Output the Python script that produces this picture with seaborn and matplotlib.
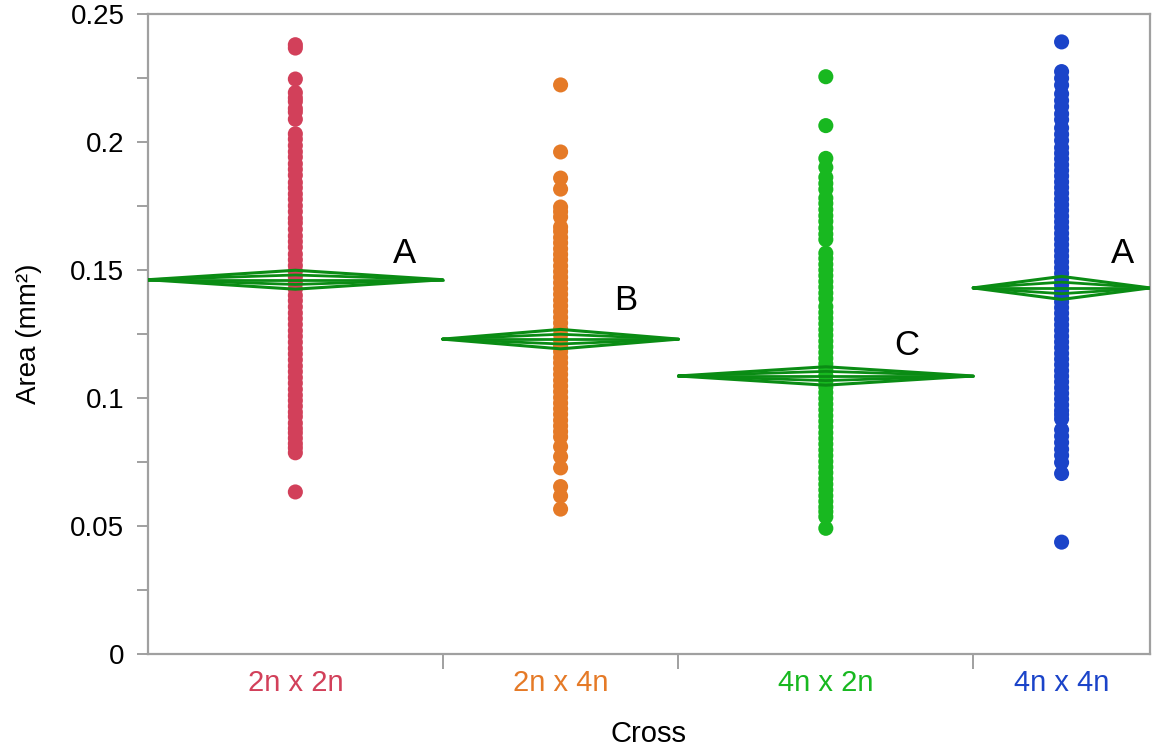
import numpy as np
import pandas as pd
import matplotlib
matplotlib.use("Agg")
import matplotlib.pyplot as plt
import seaborn as sns
from matplotlib.ticker import FixedLocator

# ---------------- data ----------------
crosses = ["2n x 2n", "2n x 4n", "4n x 2n", "4n x 4n"]
colors = ["#D2405A", "#E57A27", "#18B820", "#1B44C9"]
# relative sample sizes (JMP makes each group's width proportional to n)
group_n = [100, 80, 100, 60]

area_2n2n = [0.2380, 0.2367, 0.2246, 0.2193, 0.2172, 0.2158, 0.2131, 0.2117, 0.2089,
             0.2032, 0.2011, 0.1986, 0.1962, 0.1941, 0.1915, 0.1893, 0.1870, 0.1842,
             0.1821, 0.1797, 0.1776, 0.1751, 0.1728, 0.1702, 0.1684, 0.1659, 0.1633,
             0.1611, 0.1589, 0.1562, 0.1540, 0.1517, 0.1495, 0.1473, 0.1448, 0.1426,
             0.1401, 0.1380, 0.1356, 0.1332, 0.1310, 0.1287, 0.1263, 0.1241, 0.1218,
             0.1194, 0.1172, 0.1149, 0.1125, 0.1103, 0.1080, 0.1058, 0.1034, 0.1011,
             0.0990, 0.0968, 0.0945, 0.0927, 0.0902, 0.0881, 0.0864, 0.0843, 0.0822,
             0.0805, 0.0786, 0.0633]
area_2n4n = [0.2223, 0.1961, 0.1859, 0.1816, 0.1746, 0.1728, 0.1707,
             0.1668, 0.1651, 0.1627, 0.1606, 0.1583, 0.1561, 0.1540, 0.1516, 0.1494,
             0.1472, 0.1450, 0.1427, 0.1405, 0.1382, 0.1360, 0.1338, 0.1315, 0.1293,
             0.1270, 0.1248, 0.1226, 0.1203, 0.1181, 0.1158, 0.1137, 0.1114, 0.1092,
             0.1069, 0.1047, 0.1025, 0.1002, 0.0980, 0.0958, 0.0936, 0.0913, 0.0891,
             0.0869, 0.0848, 0.0810, 0.0771, 0.0727, 0.0654, 0.0617, 0.0566]
area_4n2n = [0.2255, 0.2064, 0.1936, 0.1901, 0.1862, 0.1838, 0.1815,
             0.1781, 0.1760, 0.1736, 0.1712, 0.1690, 0.1664, 0.1640, 0.1619,
             0.1566, 0.1545, 0.1522, 0.1500, 0.1478, 0.1455, 0.1433, 0.1410, 0.1388,
             0.1357, 0.1334, 0.1312, 0.1290, 0.1267, 0.1245, 0.1222, 0.1200, 0.1178,
             0.1155, 0.1133, 0.1110, 0.1088, 0.1066, 0.1043, 0.1021, 0.0998, 0.0976,
             0.0954, 0.0931, 0.0909, 0.0887, 0.0864, 0.0842, 0.0820, 0.0797, 0.0775,
             0.0752, 0.0730, 0.0708, 0.0685, 0.0663, 0.0641, 0.0618, 0.0596, 0.0574,
             0.0556, 0.0536, 0.0491]
area_4n4n = [0.2391, 0.2275, 0.2249, 0.2222, 0.2188, 0.2162, 0.2138, 0.2110, 0.2087,
             0.2055, 0.2030, 0.2006,
             0.1978, 0.1956, 0.1934, 0.1911, 0.1889, 0.1867, 0.1844, 0.1822, 0.1800,
             0.1777, 0.1755, 0.1733, 0.1710, 0.1688, 0.1666, 0.1643, 0.1621, 0.1599,
             0.1576, 0.1554, 0.1532, 0.1509, 0.1487, 0.1465, 0.1442, 0.1420, 0.1398,
             0.1375, 0.1353, 0.1331, 0.1308, 0.1286, 0.1264, 0.1241, 0.1219, 0.1197,
             0.1174, 0.1152, 0.1130, 0.1107, 0.1085, 0.1063, 0.1040, 0.1018, 0.0996,
             0.0973, 0.0951, 0.0935, 0.0918,
             0.0876, 0.0851, 0.0826, 0.0800, 0.0776, 0.0748, 0.0705, 0.0437]

# means diamonds (group mean and 95% CI half-width)
group_means = [0.1462, 0.1230, 0.1086, 0.1430]
ci_half = [0.0037, 0.0038, 0.0036, 0.0045]
letters = ["A", "B", "C", "A"]
letter_y = [0.1566, 0.1379, 0.1207, 0.1566]

# ---------------- layout ----------------
letter_xfrac = [0.871, 0.776, 0.776, 0.842]
diamond_color = "#0A8C14"
overlap_ratio = 0.5

sns.set_theme(style="white")
plt.rcParams["font.family"] = ["Liberation Sans", "DejaVu Sans"]
plt.rcParams["text.color"] = "black"
plt.rcParams["axes.labelcolor"] = "black"
plt.rcParams["xtick.color"] = "black"
plt.rcParams["ytick.color"] = "black"

fig = plt.figure(figsize=(11.52, 7.48), dpi=100)
ax = fig.add_axes([148 / 1152, 94 / 748, 1002 / 1152, 640 / 748])

edges = np.concatenate([[0], np.cumsum(group_n)]).astype(float)
centers = (edges[:-1] + edges[1:]) / 2

all_vals = [area_2n2n, area_2n4n, area_4n2n, area_4n4n]
df = pd.DataFrame({
    "Cross": np.repeat(crosses, [len(v) for v in all_vals]),
    "Area": np.concatenate(all_vals),
})
df["xpos"] = df["Cross"].map(dict(zip(crosses, centers)))

sns.scatterplot(data=df, x="xpos", y="Area", hue="Cross", palette=colors,
                s=118, linewidth=0, alpha=1, legend=False, ax=ax, zorder=2)

for i in range(len(crosses)):
    L, R, C = edges[i], edges[i + 1], centers[i]
    m, c = group_means[i], ci_half[i]
    ax.plot([L, C, R, C, L], [m, m + c, m, m - c, m], color=diamond_color, lw=2.2, zorder=3)
    k = c * overlap_ratio
    ax.plot([L, C, R, C, L], [m, m + k, m, m - k, m], color=diamond_color, lw=2.0, zorder=3)
    ax.plot([L, R], [m, m], color=diamond_color, lw=2.0, zorder=3)
    ax.text(L + letter_xfrac[i] * (R - L), letter_y[i], letters[i],
            fontsize=25, ha="center", va="center", color="black", zorder=4)

ax.set_xlim(edges[0], edges[-1])
ax.set_ylim(0, 0.25)

ax.xaxis.set_major_locator(FixedLocator(edges[1:-1]))
ax.set_xticklabels([])
ax.xaxis.set_minor_locator(FixedLocator(centers))
ax.set_xticklabels(crosses, minor=True, fontsize=21)
for lab, col in zip(ax.get_xticklabels(minor=True), colors):
    lab.set_color(col)
ax.tick_params(axis="x", which="major", direction="out", length=11, width=1.4,
               color="#A0A0A0", bottom=True)
ax.tick_params(axis="x", which="minor", length=0, pad=11)

yt = [0, 0.05, 0.1, 0.15, 0.2, 0.25]
ax.set_yticks(yt)
ax.set_yticklabels(["0", "0.05", "0.1", "0.15", "0.2", "0.25"], fontsize=20,
                   color="black")
ax.yaxis.set_minor_locator(FixedLocator([0.025, 0.075, 0.125, 0.175, 0.225]))
ax.tick_params(axis="y", which="both", direction="out", length=8, width=1.4,
               color="#A0A0A0", left=True, pad=9)

for sp in ax.spines.values():
    sp.set_visible(True)
    sp.set_color("#A0A0A0")
    sp.set_linewidth(1.6)

ax.set_xlabel("Cross", fontsize=21, labelpad=16, color="black")
ax.set_ylabel("Area (mm²)", fontsize=20, labelpad=20, color="black")
ax.grid(False)

fig.savefig("out.png", dpi=100)
